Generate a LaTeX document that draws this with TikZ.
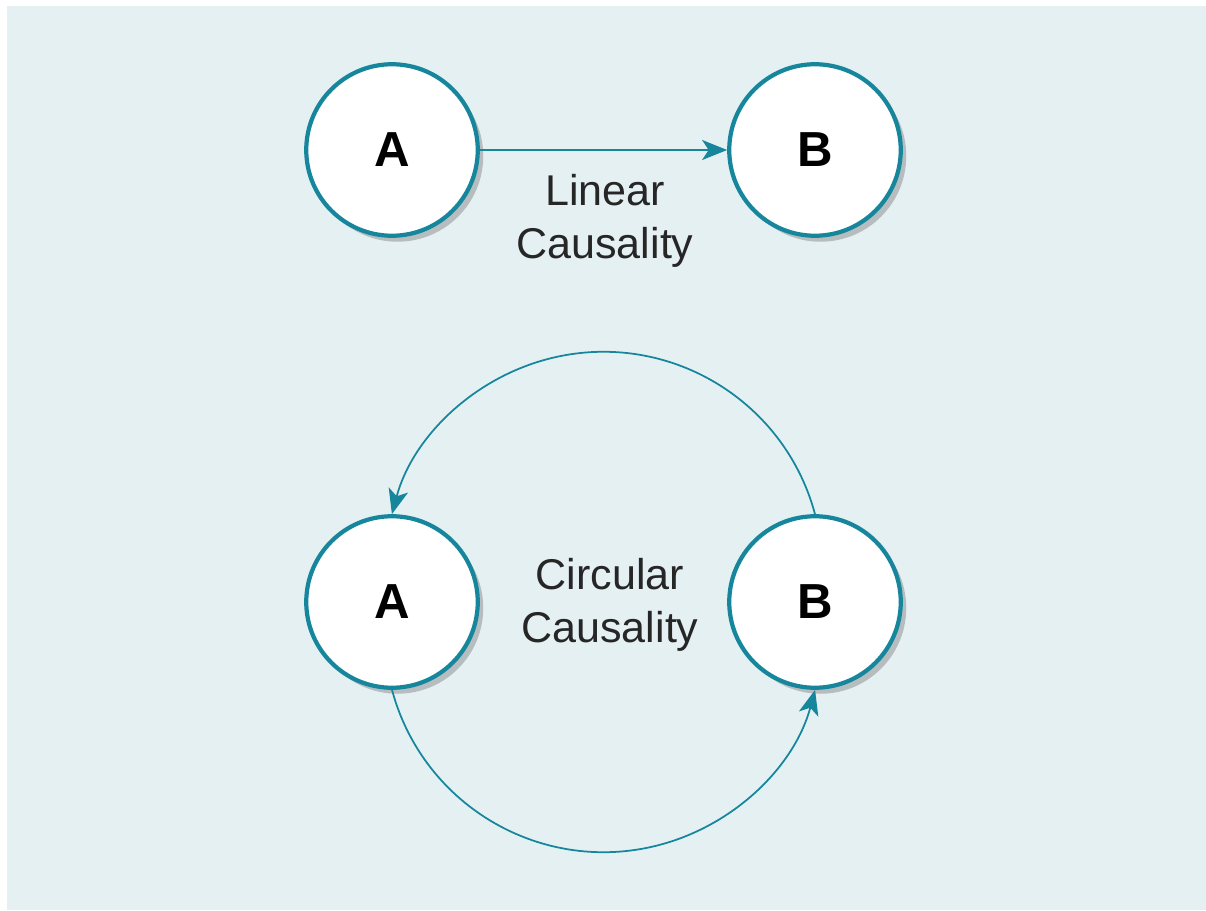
\documentclass[tikz,border=0pt]{standalone}
\usepackage{fontspec}
\setmainfont{Liberation Sans}
\usetikzlibrary{arrows.meta,shadows}

\definecolor{causeteal}{RGB}{22,134,156}
\definecolor{causebg}{RGB}{229,240,243}

\begin{document}
\begin{tikzpicture}[
  state/.style={circle, draw=causeteal, line width=2.4pt, fill=white, minimum size=3.43cm,
    font=\fontsize{28}{32}\selectfont\bfseries,
    drop shadow={shadow xshift=0.11cm, shadow yshift=-0.12cm, fill=black!50, opacity=0.45}},
  caption/.style={align=center, font=\fontsize{24.5}{30.5}\selectfont, text=black!85},
  flow/.style={draw=causeteal, line width=1pt, -{Stealth[length=5mm,width=4mm,inset=1.3mm]}, causeteal}
]
\useasboundingbox (0,0) rectangle (24.12,18.2);
\fill[causebg] (0.14,0) rectangle (24.12,18.08);

% linear causality
\node[state] (la) at (7.84,15.2){A};
\node[state] (lb) at (16.3,15.2){B};
\draw[flow] (la) -- (lb);
\node[caption] (ltext) at (12.1,13.78){Linear\\Causality};

% circular causality
\node[state] (ca) at (7.84,6.16){A};
\node[state] (cb) at (16.3,6.16){B};
\draw[flow] (cb.north) arc[start angle=15, end angle=165, radius=4.38];
\draw[flow] (ca.south) arc[start angle=195, end angle=345, radius=4.38];
\node[caption] (ctext) at (12.2,6.1){Circular\\Causality};
\end{tikzpicture}
\end{document}
